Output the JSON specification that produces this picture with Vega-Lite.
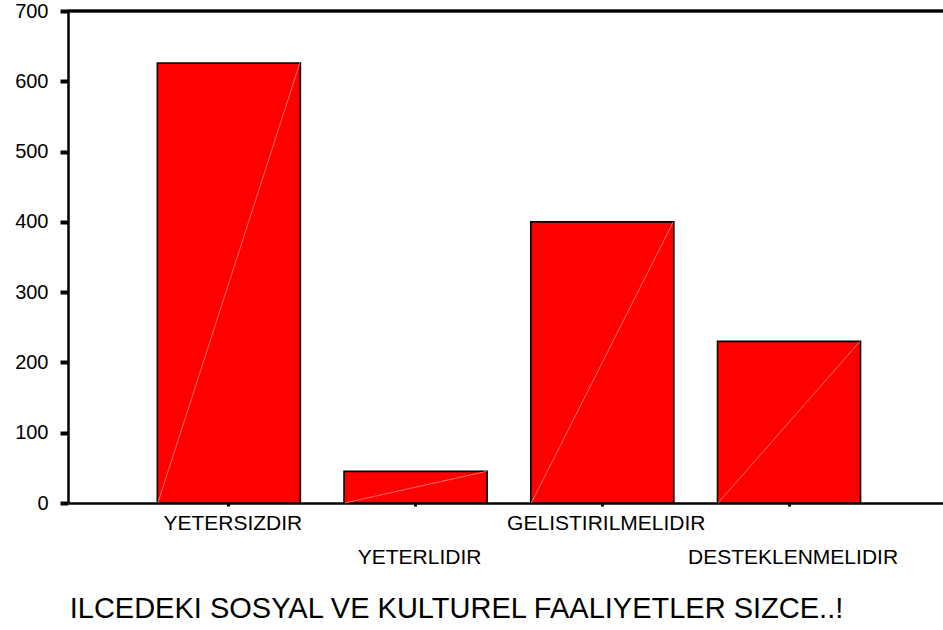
{
  "$schema": "https://vega.github.io/schema/vega-lite/v6.json",
  "width": 875,
  "height": 492,
  "autosize": {"type": "none"},
  "padding": {"left": 68, "top": 11, "right": 0, "bottom": 127},
  "background": "white",
  "config": {
    "view": {"stroke": null},
    "font": "Liberation Sans"
  },
  "data": {
    "values": [
      {"kategori": "YETERSIZDIR", "sayi": 626},
      {"kategori": "YETERLIDIR", "sayi": 45},
      {"kategori": "GELISTIRILMELIDIR", "sayi": 400},
      {"kategori": "DESTEKLENMELIDIR", "sayi": 230}
    ]
  },
  "layer": [
    {
      "mark": {"type": "bar", "color": "#ff0000", "stroke": "black", "strokeWidth": 1.6},
      "encoding": {
        "x": {
          "field": "kategori",
          "type": "nominal",
          "sort": null,
          "scale": {"paddingInner": 0.234, "paddingOuter": 0.46, "align": 0.52},
          "axis": {
            "title": "ILCEDEKI SOSYAL VE KULTUREL FAALIYETLER SIZCE..!",
            "titleFont": "Liberation Sans",
            "titleFontSize": 29,
            "titleFontWeight": "normal",
            "titleColor": "black",
            "titleX": 388,
            "titleY": 114,
            "titleAlign": "center",
            "titleBaseline": "alphabetic",
            "titleLimit": 0,
            "labelAngle": 0,
            "labelFont": "Liberation Sans",
            "labelFontSize": 21,
            "labelColor": "black",
            "labelOffset": 4,
            "labelLimit": 0,
            "labelOverlap": false,
            "labelPadding": {"condition": {"test": "datum.value === 'YETERLIDIR' || datum.value === 'DESTEKLENMELIDIR'", "value": 40}, "value": 6},
            "domainColor": "black",
            "domainWidth": 2.5,
            "tickColor": "black",
            "tickSize": 3,
            "tickWidth": 3,
            "grid": false
          }
        },
        "y": {
          "field": "sayi",
          "type": "quantitative",
          "scale": {"domain": [0, 700], "nice": false},
          "axis": {
            "title": null,
            "values": [0, 100, 200, 300, 400, 500, 600, 700],
            "labelFont": "Liberation Sans",
            "labelFontSize": 20,
            "labelColor": "black",
            "labelPadding": 12,
            "domainColor": "black",
            "domainWidth": 2.5,
            "tickColor": "black",
            "tickSize": 8,
            "tickWidth": 4,
            "grid": false
          }
        }
      }
    },
    {
      "mark": {"type": "rule", "color": "#ff8a8a", "strokeWidth": 0.8, "xOffset": 71, "x2Offset": -71},
      "encoding": {
        "x": {"field": "kategori", "type": "nominal", "sort": null},
        "x2": {"field": "kategori"},
        "y": {"field": "sayi", "type": "quantitative"},
        "y2": {"datum": 0}
      }
    },
    {
      "mark": {"type": "rule", "color": "black", "strokeWidth": 2.5},
      "encoding": {
        "y": {"datum": 700, "type": "quantitative"}
      }
    }
  ]
}
